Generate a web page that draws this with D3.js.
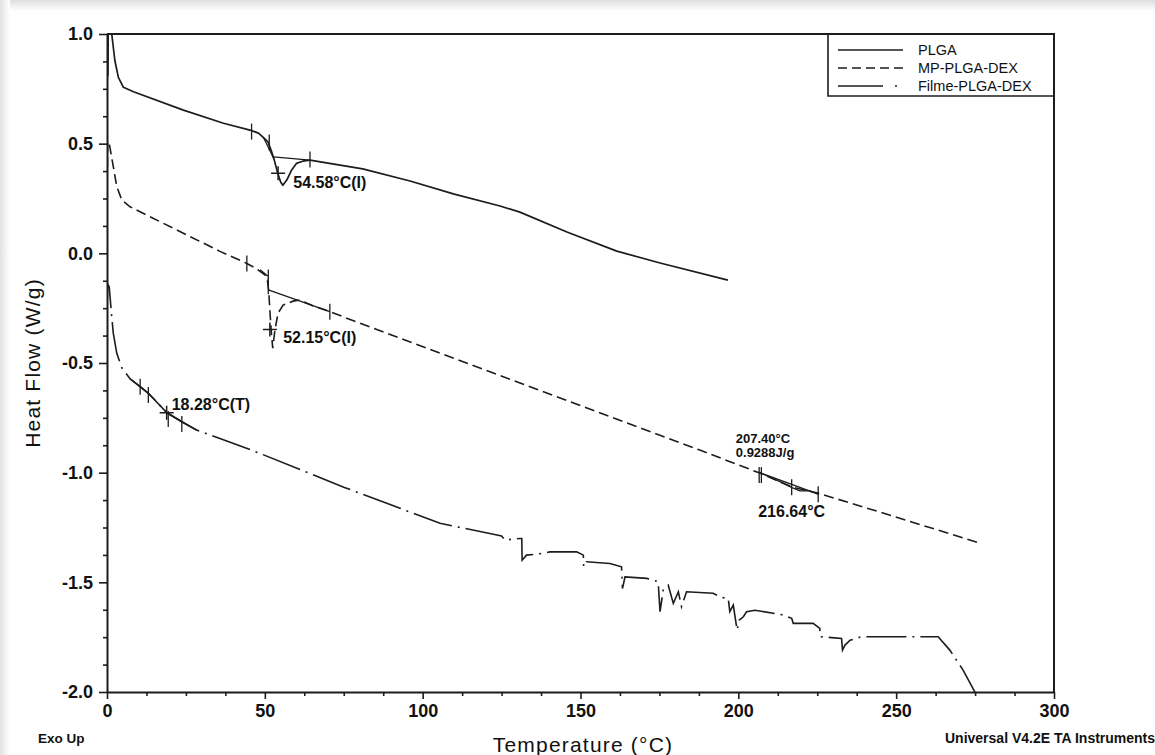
<!DOCTYPE html>
<html>
<head>
<meta charset="utf-8">
<script src="https://cdn.jsdelivr.net/npm/d3@7"></script>
<style>
  html, body { margin: 0; padding: 0; background: #fff; }
  svg { display: block; font-family: "Liberation Sans", Arial, sans-serif; }
</style>
</head>
<body>
<div id="chart"></div>
<script>
// axis ticks and labels
const xTicks = [0, 50, 100, 150, 200, 250, 300];
const xTickLabels = ["0", "50", "100", "150", "200", "250", "300"];
const yTicks = [1.0, 0.5, 0.0, -0.5, -1.0, -1.5, -2.0];
const yTickLabels = ["1.0", "0.5", "0.0", "-0.5", "-1.0", "-1.5", "-2.0"];

const seriesNames = ["PLGA", "MP-PLGA-DEX", "Filme-PLGA-DEX"];

// PLGA (solid) - temperature (°C) and heat flow (W/g)
const plgaTemp = [0.2, 0.3, 0.4, 1.5, 2.5, 3.6, 5.2, 8.4, 24.2, 36.9, 45.3, 48, 49.4, 51, 52, 53, 54, 55, 55.7, 57, 58.5, 60, 62, 64.3, 81, 96, 110, 124.5, 130.8, 145.7, 161.5, 175.2, 196.7];
const plgaHeat = [0.82, 0.81, 1.1, 1.0, 0.878, 0.802, 0.757, 0.737, 0.653, 0.593, 0.562, 0.548, 0.53, 0.508, 0.47, 0.425, 0.37, 0.325, 0.31, 0.335, 0.38, 0.41, 0.42, 0.425, 0.385, 0.33, 0.27, 0.216, 0.188, 0.097, 0.01, -0.044, -0.122];

// MP-PLGA-DEX (dashed)
const mpTemp = [0.1, 0.2, 0.7, 2.0, 3.1, 4.7, 7.3, 35.8, 44.3, 47, 50.1, 50.8, 51.2, 51.6, 52.0, 52.5, 53.2, 54.2, 55.8, 59, 61, 65, 70.6, 83.3, 187.8, 206.8, 217, 225.2, 244.9, 276.5];
const mpHeat = [0.39, 0.51, 0.502, 0.395, 0.304, 0.243, 0.212, 0.009, -0.046, -0.067, -0.099, -0.122, -0.167, -0.259, -0.35, -0.432, -0.35, -0.272, -0.236, -0.218, -0.213, -0.238, -0.266, -0.336, -0.897, -1.002, -1.066, -1.093, -1.18, -1.321];

// Filme-PLGA-DEX (dash-dot)
const filmeTemp = [0.1, 0.2, 0.7, 1.5, 2.0, 3.1, 4.7, 7.3, 10.5, 13.1, 19, 23.7, 28.4, 45.3, 75, 105.5, 122.4, 125.0, 126.1, 130.8, 131.4, 131.5, 132.9, 138.2, 140.3, 148.8, 150.9, 151.0, 151.9, 159.3, 163.0, 163.3, 164.1, 171.0, 174.6, 175.2, 176.2, 177.8, 179.4, 181.0, 182.0, 183.6, 192.0, 194.7, 196.8, 197.3, 198.4, 199.6, 200.3, 201.6, 202.6, 205.3, 214.2, 216.9, 217.4, 223.7, 225.8, 226.0, 232.7, 233.0, 233.8, 235.4, 239.0, 249.1, 252.2, 263.3, 267.0, 271.2, 274.9, 276.0];
const filmeHeat = [-0.21, -0.14, -0.152, -0.289, -0.365, -0.456, -0.522, -0.572, -0.608, -0.638, -0.727, -0.768, -0.806, -0.894, -1.066, -1.231, -1.281, -1.289, -1.307, -1.300, -1.300, -1.399, -1.376, -1.368, -1.361, -1.361, -1.376, -1.429, -1.406, -1.414, -1.429, -1.528, -1.475, -1.482, -1.497, -1.634, -1.535, -1.513, -1.596, -1.543, -1.611, -1.543, -1.550, -1.569, -1.573, -1.634, -1.604, -1.718, -1.672, -1.657, -1.634, -1.627, -1.649, -1.664, -1.687, -1.687, -1.710, -1.748, -1.756, -1.809, -1.786, -1.764, -1.748, -1.748, -1.748, -1.748, -1.809, -1.900, -1.999, -2.05];

// analysis marks (temperature, heat flow)
const analysisTicks = [[45.8, 0.555], [51.4, 0.505], [64.3, 0.428],
  [44.3, -0.046], [51.1, -0.11], [51.1, -0.15], [70.6, -0.266],
  [206.6, -1.011], [207.3, -1.011], [216.9, -1.066], [225.3, -1.098],
  [10.5, -0.608], [13.1, -0.646], [19.4, -0.755], [23.7, -0.778]];
const analysisCrosses = [[54.2, 0.365], [51.6, -0.347], [18.9, -0.727]];
const analysisLines = [
  [[52.7, 0.44], [64.3, 0.425]],
  [[49.5, 0.53], [52.9, 0.43]],
  [[51.1, -0.167], [70.6, -0.266]],
  [[48.5, -0.075], [51.0, -0.105]],
  [[206.8, -1.0], [225.3, -1.098]],
  [[206.8, -1.0], [213, -1.04], [217, -1.068], [219.5, -1.083], [222.5, -1.082], [225.3, -1.098]]
];
const filmeSolidRange = [5.0, 28.4];

// annotation texts
const noteTexts = ["54.58°C(I)", "52.15°C(I)", "18.28°C(T)", "207.40°C", "0.9288J/g", "216.64°C"];
const noteTemp = [59.0, 55.8, 20.5, 199.2, 199.2, 206.3];
const noteHeat = [0.298, -0.409, -0.715, -0.865, -0.929, -1.202];

const width = 1155;
const height = 755;
const plot = {left: 107, right: 1054, top: 34, bottom: 692};

const svg = d3.select('#chart').append('svg')
    .attr('width', width)
    .attr('height', height);

// faint screenshot shadow on the top / left edge
const defs = svg.append('defs');
const gTop = defs.append('linearGradient').attr('id', 'shTop').attr('x1', 0).attr('x2', 0).attr('y1', 0).attr('y2', 1);
gTop.append('stop').attr('offset', '0%').attr('stop-color', '#dedede');
gTop.append('stop').attr('offset', '100%').attr('stop-color', '#ffffff');
const gLeft = defs.append('linearGradient').attr('id', 'shLeft').attr('x1', 0).attr('x2', 1).attr('y1', 0).attr('y2', 0);
gLeft.append('stop').attr('offset', '0%').attr('stop-color', '#e2e2e2');
gLeft.append('stop').attr('offset', '100%').attr('stop-color', '#ffffff');
svg.append('rect').attr('x', 0).attr('y', 0).attr('width', width).attr('height', 11).attr('fill', 'url(#shTop)');
svg.append('rect').attr('x', 0).attr('y', 0).attr('width', 10).attr('height', height).attr('fill', 'url(#shLeft)');

defs.append('clipPath').attr('id', 'plotClip')
  .append('rect')
    .attr('x', plot.left).attr('y', plot.top)
    .attr('width', plot.right - plot.left).attr('height', plot.bottom - plot.top);

const x = d3.scaleLinear().domain([0, 300]).range([plot.left, plot.right]);
const y = d3.scaleLinear().domain([-2, 1]).range([plot.bottom, plot.top]);

const ink = '#1c1c1c';

// minor ticks
const xMinor = d3.range(0, 301, 12.5).filter(d => d % 50 !== 0);
const yMinor = d3.range(-2, 1.001, 0.125).filter(d => Math.abs(d * 2 - Math.round(d * 2)) > 1e-6);

svg.append('g')
    .attr('transform', `translate(0,${plot.bottom})`)
    .call(d3.axisBottom(x).tickValues(xMinor).tickSize(4).tickFormat(''))
    .call(g => g.select('.domain').remove());
svg.append('g')
    .attr('transform', `translate(${plot.left},0)`)
    .call(d3.axisLeft(y).tickValues(yMinor).tickSize(4).tickFormat(''))
    .call(g => g.select('.domain').remove());

// major axes
const xAxis = svg.append('g')
    .attr('transform', `translate(0,${plot.bottom})`)
    .call(d3.axisBottom(x).tickValues(xTicks).tickSize(7).tickSizeOuter(0).tickPadding(5)
      .tickFormat((d, i) => xTickLabels[i]));
const yAxis = svg.append('g')
    .attr('transform', `translate(${plot.left},0)`)
    .call(d3.axisLeft(y).tickValues(yTicks).tickSize(8).tickSizeOuter(0).tickPadding(6)
      .tickFormat((d, i) => yTickLabels[i]));

[xAxis, yAxis].forEach(a => {
  a.selectAll('line').attr('stroke', ink).attr('stroke-width', 1.6);
  a.select('.domain').attr('stroke', ink).attr('stroke-width', 2);
  a.selectAll('text')
    .attr('fill', '#111')
    .style('font-size', '18px')
    .style('font-weight', 'bold')
    .style('font-family', '"Liberation Sans", Arial, sans-serif');
});
svg.selectAll('.tick line').attr('stroke', ink).attr('stroke-width', 1.6);

// top and right frame
svg.append('path')
    .attr('d', `M${plot.left},${plot.top}H${plot.right}V${plot.bottom}`)
    .attr('fill', 'none')
    .attr('stroke', ink)
    .attr('stroke-width', 2);

// curves
const zip = (a, b) => a.map((d, i) => [d, b[i]]);
const line = d3.line().x(d => x(d[0])).y(d => y(d[1]));

const curves = svg.append('g').attr('clip-path', 'url(#plotClip)');

const plgaData = zip(plgaTemp, plgaHeat);
const mpData = zip(mpTemp, mpHeat);
const filmeData = zip(filmeTemp, filmeHeat);

const dashes = [null, '10,5', '40,6,2,6'];

curves.append('path')
    .datum(plgaData)
    .attr('d', line)
    .attr('fill', 'none').attr('stroke', ink).attr('stroke-width', 1.7)
    .attr('stroke-linejoin', 'round');
curves.append('path')
    .datum(mpData)
    .attr('d', line)
    .attr('fill', 'none').attr('stroke', ink).attr('stroke-width', 1.6)
    .attr('stroke-dasharray', dashes[1]);
curves.append('path')
    .datum(filmeData)
    .attr('d', line)
    .attr('fill', 'none').attr('stroke', ink).attr('stroke-width', 1.6)
    .attr('stroke-dasharray', dashes[2]);

// solid analysis part of the film curve
curves.append('path')
    .datum(filmeData.filter(d => d[0] >= filmeSolidRange[0] && d[0] <= filmeSolidRange[1]))
    .attr('d', line)
    .attr('fill', 'none').attr('stroke', ink).attr('stroke-width', 1.6);

// analysis construction lines, ticks, crosses
const marks = svg.append('g').attr('stroke', ink).attr('stroke-width', 1.3).attr('fill', 'none');
marks.selectAll('.aline')
  .data(analysisLines)
  .join('path')
    .attr('class', 'aline')
    .attr('d', line);
marks.selectAll('.atick')
  .data(analysisTicks)
  .join('line')
    .attr('class', 'atick')
    .attr('x1', d => x(d[0])).attr('x2', d => x(d[0]))
    .attr('y1', d => y(d[1]) - 8).attr('y2', d => y(d[1]) + 8);
marks.selectAll('.across')
  .data(analysisCrosses)
  .join('path')
    .attr('class', 'across')
    .attr('d', d => `M${x(d[0]) - 7},${y(d[1])}h14M${x(d[0])},${y(d[1]) - 7}v14`)
    .attr('stroke-width', 1.5);

// annotation texts
svg.append('g')
  .selectAll('text')
  .data(noteTexts)
  .join('text')
    .attr('x', (d, i) => x(noteTemp[i]))
    .attr('y', (d, i) => y(noteHeat[i]))
    .attr('fill', '#111')
    .style('font-size', (d, i) => (i === 3 || i === 4) ? '13px' : '16px')
    .style('font-weight', 'bold')
    .text(d => d);

// legend
const legend = svg.append('g');
legend.append('path')
    .attr('d', `M828,${plot.top}V96H${plot.right}`)
    .attr('fill', 'none').attr('stroke', ink).attr('stroke-width', 1.6);
const rows = legend.selectAll('g.row')
  .data(seriesNames)
  .join('g')
    .attr('class', 'row')
    .attr('transform', (d, i) => `translate(0,${50 + i * 18})`);
rows.append('line')
    .attr('x1', 838).attr('x2', 903)
    .attr('stroke', ink).attr('stroke-width', 1.4)
    .attr('stroke-dasharray', (d, i) => i === 0 ? null : (i === 1 ? '9,5' : '45,12,2,20'));
rows.append('text')
    .attr('x', 918).attr('dy', '0.35em')
    .attr('fill', '#111')
    .style('font-size', '14.5px')
    .text(d => d);

// axis titles and footer
svg.append('text')
    .attr('transform', `translate(40,${(plot.top + plot.bottom) / 2}) rotate(-90)`)
    .attr('text-anchor', 'middle')
    .attr('fill', '#111')
    .style('font-size', '21px')
    .style('letter-spacing', '1.2px')
    .text('Heat Flow (W/g)');
svg.append('text')
    .attr('x', 583).attr('y', 752)
    .attr('text-anchor', 'middle')
    .attr('fill', '#111')
    .style('font-size', '21px')
    .style('letter-spacing', '1.2px')
    .text('Temperature (°C)');
svg.append('text')
    .attr('x', 38).attr('y', 743)
    .attr('fill', '#111')
    .style('font-size', '13.5px')
    .style('font-weight', 'bold')
    .text('Exo Up');
svg.append('text')
    .attr('x', 945).attr('y', 743)
    .attr('fill', '#111')
    .style('font-size', '14px')
    .style('font-weight', 'bold')
    .text('Universal V4.2E TA Instruments');
</script>
</body>
</html>
